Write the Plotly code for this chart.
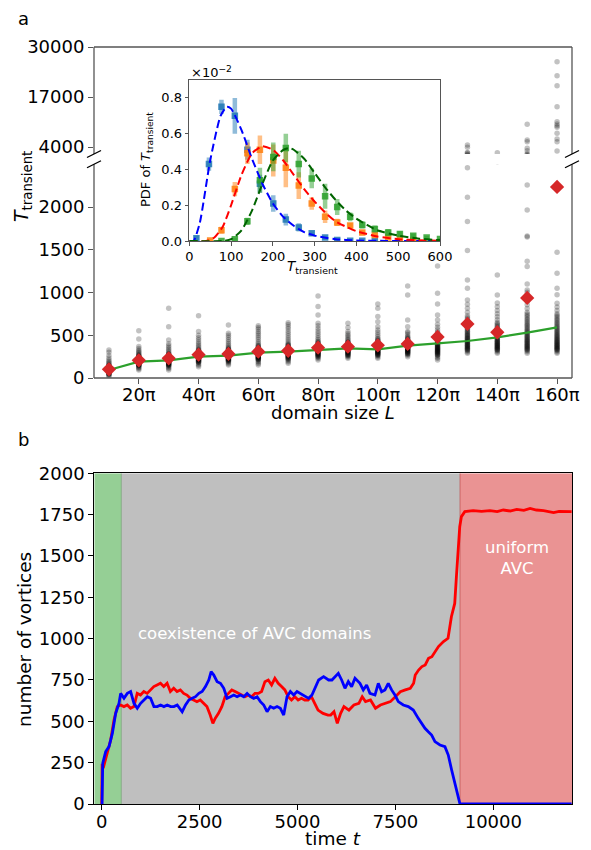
import numpy as np
import plotly.graph_objects as go

PI = np.pi
OFF = 8                      # page body margin of the html page
W, H = 591 - OFF, 850 - OFF  # figure size

# ---------------- panel a : data ----------------
L_mult = [10, 20, 30, 40, 50, 60, 70, 80, 90, 100, 110, 120, 130, 140, 150, 160]
T_mean = [102, 207, 230, 273, 281, 308, 319, 355, 366, 382, 398, 480, 632, 535, 936, 2235]
T_fit = [94, 191, 207, 249, 261, 296, 308, 328, 347, 335, 378, 405, 433, 476, 530, 593]

T_10 = [18, 30, 42, 45, 50, 55, 58, 62, 64, 68, 70, 73, 76, 79, 81, 84, 86, 88, 90, 92, 94, 96, 98, 100, 103, 105, 108, 110, 113, 116, 118, 121, 124, 127, 131, 134, 138, 142, 146, 155, 166, 178, 192, 210, 235, 262, 300, 328]
T_20 = [94, 108, 120, 130, 140, 145, 148, 152, 156, 160, 163, 167, 170, 173, 176, 179, 182, 185, 188, 191, 193, 196, 198, 201, 204, 207, 210, 213, 216, 219, 222, 226, 229, 233, 236, 240, 244, 248, 252, 257, 262, 272, 284, 296, 310, 325, 345, 367, 456, 554]
T_30 = [94, 110, 124, 136, 146, 150, 155, 159, 163, 167, 171, 175, 178, 182, 185, 189, 192, 195, 198, 201, 204, 207, 210, 214, 217, 221, 224, 228, 231, 235, 238, 242, 246, 250, 255, 260, 265, 270, 276, 282, 288, 302, 318, 336, 356, 378, 402, 444, 600, 815]
T_40 = [133, 150, 165, 178, 184, 190, 195, 200, 205, 209, 213, 217, 221, 225, 228, 232, 236, 239, 243, 246, 250, 253, 257, 260, 264, 267, 271, 274, 278, 282, 286, 290, 295, 299, 304, 309, 315, 320, 326, 332, 346, 362, 380, 400, 422, 446, 472, 500, 544, 729]
T_50 = [152, 168, 182, 194, 198, 204, 208, 213, 217, 221, 225, 229, 232, 236, 240, 243, 247, 250, 254, 257, 261, 264, 268, 271, 275, 278, 282, 286, 290, 294, 298, 303, 308, 313, 318, 324, 330, 336, 343, 350, 366, 384, 404, 426, 450, 476, 500, 523, 620]
T_60 = [152, 170, 186, 200, 212, 217, 222, 227, 231, 236, 240, 244, 248, 252, 256, 260, 264, 268, 272, 276, 280, 284, 288, 292, 296, 300, 305, 310, 315, 320, 326, 332, 338, 345, 352, 360, 368, 377, 386, 406, 428, 452, 476, 500, 524, 544, 570, 590, 612]
T_70 = [172, 190, 206, 220, 226, 232, 238, 243, 248, 253, 258, 262, 266, 271, 275, 280, 284, 289, 293, 298, 302, 307, 312, 317, 322, 328, 334, 340, 346, 353, 360, 368, 376, 384, 393, 402, 422, 444, 468, 494, 520, 548, 575, 600, 625, 647]
T_80 = [211, 228, 243, 250, 256, 262, 268, 273, 279, 284, 289, 294, 299, 303, 308, 312, 317, 321, 326, 331, 336, 341, 346, 351, 357, 363, 369, 375, 382, 389, 396, 404, 412, 421, 430, 450, 472, 496, 522, 550, 580, 610, 640, 737, 835, 959]
T_90 = [230, 245, 258, 264, 270, 276, 281, 286, 291, 296, 300, 305, 309, 314, 318, 323, 327, 332, 336, 341, 345, 350, 355, 360, 365, 370, 376, 382, 388, 394, 401, 408, 415, 422, 430, 446, 463, 482, 500, 520, 544, 590, 640]
T_100 = [230, 246, 260, 266, 272, 278, 283, 288, 293, 298, 302, 307, 311, 316, 320, 325, 329, 334, 338, 343, 348, 353, 358, 363, 369, 375, 381, 387, 394, 401, 408, 416, 424, 433, 442, 452, 462, 484, 508, 534, 562, 600, 659, 718, 815, 866]
T_110 = [250, 265, 278, 284, 290, 296, 301, 306, 311, 316, 320, 325, 329, 334, 338, 343, 347, 352, 357, 362, 367, 372, 378, 384, 390, 396, 403, 410, 417, 424, 432, 440, 448, 457, 466, 476, 486, 508, 530, 544, 600, 679, 971, 1076]
T_120 = [211, 230, 247, 262, 270, 276, 283, 289, 295, 301, 306, 312, 318, 323, 329, 334, 340, 345, 351, 357, 363, 369, 376, 382, 390, 396, 404, 411, 420, 427, 436, 445, 455, 465, 476, 487, 499, 511, 524, 537, 565, 595, 630, 679, 737, 866, 990, 1310]
T_130 = [289, 305, 320, 327, 334, 341, 348, 355, 362, 369, 376, 383, 390, 398, 405, 413, 420, 428, 436, 444, 452, 461, 469, 478, 487, 497, 506, 516, 526, 537, 548, 560, 572, 585, 598, 612, 626, 641, 656, 673, 690, 709, 728, 770, 816, 864, 913, 1049, 1147, 1490, 1829, 2114, 2460, 2560, 3920, 4520]
T_140 = [289, 305, 320, 327, 334, 340, 347, 353, 360, 366, 373, 380, 386, 393, 400, 407, 414, 422, 429, 437, 445, 453, 462, 471, 480, 490, 499, 510, 520, 531, 542, 554, 566, 579, 592, 606, 620, 635, 650, 682, 716, 752, 790, 832, 877, 971, 1205, 2530]
T_150 = [289, 306, 322, 330, 338, 346, 354, 362, 370, 378, 386, 395, 403, 412, 420, 429, 438, 447, 457, 467, 477, 488, 498, 509, 520, 532, 544, 557, 570, 584, 598, 613, 628, 644, 660, 677, 694, 712, 730, 750, 770, 812, 856, 900, 950, 1003, 1030, 1100, 1305, 1365, 1650, 1660, 1966, 2258, 3040, 3660, 5380, 5800, 9900]
T_160 = [289, 305, 320, 327, 334, 341, 348, 355, 362, 369, 376, 384, 391, 399, 406, 414, 422, 430, 439, 448, 457, 466, 476, 486, 496, 506, 517, 528, 540, 552, 565, 578, 592, 606, 620, 635, 650, 666, 682, 699, 716, 734, 752, 790, 830, 874, 975, 1049, 1225, 1470, 2960, 5380, 6080, 7560, 9120, 9500, 9980, 10580, 14480, 19940, 22540, 26180]
T_samples = [T_10, T_20, T_30, T_40, T_50, T_60, T_70, T_80, T_90, T_100, T_110, T_120, T_130, T_140, T_150, T_160]

L_ticks = [20, 40, 60, 80, 100, 120, 140, 160]

# inset PDFs (units of 1e-2)
pdf_x_blue = [17, 47, 77, 109, 139, 169, 201, 231, 262, 293, 325, 354, 385, 414, 444]
pdf_blue = [0.015, 0.43, 0.75, 0.70, 0.51, 0.32, 0.21, 0.12, 0.076, 0.043, 0.019, 0.006, 0.002, 0.001, 0.0]
err_blue = [0.015, 0.037, 0.04, 0.10, 0.056, 0.05, 0.046, 0.033, 0.023, 0.012, 0.01, 0.005, 0.003, 0.002, 0.001]

pdf_x_orange = [50, 77, 109, 139, 169, 201, 231, 262, 293, 325, 354, 385, 414, 444, 476, 504, 536]
pdf_orange = [0.003, 0.06, 0.29, 0.49, 0.51, 0.45, 0.41, 0.31, 0.21, 0.135, 0.104, 0.086, 0.047, 0.034, 0.019, 0.015, 0.006]
err_orange = [0.005, 0.02, 0.04, 0.06, 0.08, 0.09, 0.11, 0.075, 0.035, 0.035, 0.02, 0.015, 0.015, 0.01, 0.008, 0.006, 0.004]

pdf_x_green = [77, 109, 139, 169, 201, 231, 262, 293, 325, 354, 385, 414, 444, 476, 504, 536, 568, 600]
pdf_green = [0.0, 0.01, 0.11, 0.34, 0.47, 0.52, 0.43, 0.35, 0.25, 0.19, 0.135, 0.09, 0.067, 0.047, 0.039, 0.03, 0.02, 0.011]
err_green = [0.003, 0.008, 0.02, 0.07, 0.08, 0.08, 0.075, 0.055, 0.07, 0.045, 0.025, 0.02, 0.02, 0.02, 0.015, 0.01, 0.008, 0.006]

fit_x_blue = [0, 10, 25, 50, 75, 90, 100, 125, 150, 175, 200, 225, 250, 275, 300, 350, 400, 450, 600]
fit_blue = [0.0, 0.0, 0.10, 0.45, 0.70, 0.75, 0.74, 0.62, 0.46, 0.32, 0.21, 0.135, 0.085, 0.05, 0.03, 0.01, 0.003, 0.001, 0.0]
fit_x_red = [0, 40, 60, 80, 100, 125, 150, 175, 200, 225, 250, 275, 300, 325, 350, 375, 400, 450, 500, 550, 600]
fit_red = [0.0, 0.0, 0.02, 0.08, 0.20, 0.37, 0.49, 0.53, 0.51, 0.45, 0.37, 0.29, 0.22, 0.16, 0.11, 0.08, 0.055, 0.025, 0.01, 0.004, 0.001]
fit_x_green = [0, 80, 100, 125, 150, 175, 200, 225, 240, 250, 275, 300, 325, 350, 375, 400, 425, 450, 500, 550, 600]
fit_green = [0.0, 0.0, 0.01, 0.06, 0.17, 0.32, 0.45, 0.51, 0.52, 0.51, 0.46, 0.38, 0.30, 0.23, 0.17, 0.125, 0.09, 0.06, 0.03, 0.013, 0.005]

# ---------------- panel b : data ----------------
red_t = [0, 10, 48, 143, 228, 313, 397, 482, 567, 652, 736, 821, 906, 990, 1075, 1160, 1245, 1330, 1414, 1499,
         1584, 1669, 1753, 1838, 1923, 2008, 2092, 2177, 2262, 2347, 2431, 2516, 2601, 2686, 2770, 2838, 2897,
         2982, 3067, 3151, 3236, 3321, 3406, 3490, 3575, 3660, 3745, 3829, 3914, 3999, 4083, 4168, 4253, 4338,
         4422, 4507, 4592, 4677, 4761, 4846, 4931, 5016, 5100, 5185, 5270, 5355, 5439, 5524, 5651, 5778, 5847,
         5931, 6016, 6101, 6186, 6313, 6440, 6567, 6652, 6737, 6864, 6991, 7118, 7245, 7372, 7499, 7626, 7753,
         7880, 7965, 8007, 8092, 8177, 8261, 8346, 8431, 8516, 8600, 8728, 8844, 8930, 9015, 9058, 9101, 9143,
         9186, 9272, 9486, 9700, 9914, 10100, 10256, 10430, 10599, 10780, 10941, 11100, 11283, 11420, 11540,
         11680, 11797, 12000]
red_n = [0, 230, 226, 306, 387, 508, 589, 599, 589, 599, 579, 589, 669, 659, 680, 669, 690, 710, 720, 730,
         710, 730, 680, 700, 680, 690, 669, 659, 639, 629, 619, 629, 609, 589, 538, 488, 518,
         548, 589, 649, 669, 690, 680, 669, 659, 649, 659, 649, 669, 669, 680, 740, 750, 720,
         760, 730, 710, 690, 649, 629, 649, 629, 639, 629, 629, 649, 609, 568, 548, 538, 538,
         558, 488, 548, 589, 568, 599, 609, 649, 619, 629, 579, 599, 609, 619, 649, 679, 690,
         700, 730, 780, 810, 831, 841, 881, 891, 921, 952, 982, 1002, 1133, 1213, 1375, 1556, 1677,
         1738, 1768, 1774, 1770, 1774, 1768, 1778, 1772, 1782, 1776, 1788, 1778, 1774, 1768, 1762,
         1770, 1768, 1768]

blue_t = [0, 8, 25, 101, 186, 271, 356, 441, 483, 568, 653, 738, 823, 908, 993, 1078, 1163, 1248, 1333, 1418,
          1503, 1588, 1673, 1758, 1843, 1928, 2055, 2140, 2225, 2310, 2395, 2480, 2565, 2650, 2735, 2794, 2862,
          2947, 3032, 3117, 3202, 3287, 3372, 3457, 3542, 3627, 3712, 3797, 3882, 3967, 4052, 4137, 4222, 4307,
          4392, 4477, 4562, 4647, 4732, 4817, 4902, 4987, 5072, 5157, 5284, 5369, 5454, 5539, 5666, 5794, 5879,
          5960, 6042, 6127, 6212, 6297, 6382, 6468, 6595, 6680, 6765, 6850, 6978, 7063, 7148, 7233, 7318, 7403,
          7488, 7574, 7701, 7829, 7957, 8084, 8169, 8255, 8340, 8425, 8510, 8638, 8765, 8850, 8936, 9021, 9106,
          9149, 12000]
blue_n = [0, 0, 246, 317, 347, 427, 548, 609, 669, 639, 669, 680, 609, 579, 609, 629, 649, 639, 589, 589,
          599, 589, 599, 589, 589, 599, 558, 599, 629, 639, 649, 669, 680, 710, 750, 800, 780,
          740, 730, 700, 639, 649, 659, 649, 659, 649, 669, 649, 639, 649, 619, 599, 558, 589,
          579, 589, 579, 538, 649, 680, 659, 680, 669, 659, 639, 659, 710, 750, 770, 750, 750,
          770, 790, 750, 700, 740, 710, 760, 730, 690, 720, 669, 659, 730, 679, 690, 730, 690,
          659, 619, 599, 589, 568, 518, 488, 458, 437, 417, 377, 357, 347, 296, 206, 125, 34,
          0, 0]

t_ticks = [0, 2500, 5000, 7500, 10000]

# ---------------- geometry helpers (window pixel -> paper) ----------------
def px(x):
    return (x - OFF) / W

def py(y):
    return (H - (y - OFF)) / H

AX_L, AX_R = 94, 572
LOW_BOT, LOW_TOP = 378, 164.25
UP_BOT, UP_TOP = 154, 47

FONT = "DejaVu Sans"
GRAY = "#555555"

fig = go.Figure()

dx, dy = [], []
for m, vals in zip(L_mult, T_samples):
    dx += [m * PI] * len(vals)
    dy += vals
for ya in ["y", "y2"]:
    fig.add_trace(go.Scatter(x=dx, y=dy, mode="markers", xaxis="x", yaxis=ya,
                             marker=dict(size=5.5, color="rgba(0,0,0,0.24)", line_width=0),
                             hoverinfo="skip", showlegend=False))
Lx = [m * PI for m in L_mult]
fig.add_trace(go.Scatter(x=Lx, y=T_fit, mode="lines", xaxis="x", yaxis="y",
                         line=dict(color="#2ca02c", width=2.2), showlegend=False))
fig.add_trace(go.Scatter(x=Lx, y=T_mean, mode="markers", xaxis="x", yaxis="y",
                         marker=dict(symbol="diamond", size=11, color="#d62728", line_width=0),
                         showlegend=False))

for xs, ys, es, col in [(pdf_x_blue, pdf_blue, err_blue, (31, 119, 180)),
                        (pdf_x_orange, pdf_orange, err_orange, (255, 127, 14)),
                        (pdf_x_green, pdf_green, err_green, (44, 160, 44))]:
    r, g, b = col
    fig.add_trace(go.Scatter(x=xs, y=ys, mode="markers", xaxis="x3", yaxis="y3",
                             marker=dict(symbol="square", size=6.5, color=f"rgba({r},{g},{b},0.85)", line_width=0),
                             error_y=dict(type="data", array=es, visible=True, thickness=4.5, width=0,
                                          color=f"rgba({r},{g},{b},0.5)"),
                             showlegend=False))
for xs, ys, col in [(fit_x_blue, fit_blue, "blue"), (fit_x_red, fit_red, "red"),
                    (fit_x_green, fit_green, "darkgreen")]:
    fig.add_trace(go.Scatter(x=xs, y=ys, mode="lines", xaxis="x3", yaxis="y3",
                             line=dict(color=col, width=2, dash="8px,4px", shape="spline", smoothing=0.6),
                             showlegend=False))

fig.add_trace(go.Scatter(x=red_t, y=red_n, mode="lines", xaxis="x4", yaxis="y4",
                         line=dict(color="red", width=2.8), showlegend=False))
fig.add_trace(go.Scatter(x=blue_t, y=blue_n, mode="lines", xaxis="x4", yaxis="y4",
                         line=dict(color="blue", width=2.8), showlegend=False))

tick_common = dict(showgrid=False, zeroline=False, ticks="outside", ticklen=5, tickwidth=1.2,
                   showline=False, automargin=False)

fig.update_layout(
    width=W, height=H, margin=dict(l=0, r=0, t=0, b=0, pad=0, autoexpand=False),
    paper_bgcolor="white", plot_bgcolor="white",
    font=dict(family=FONT, color="black", size=18),
    xaxis=dict(domain=[px(AX_L), px(AX_R)], anchor="y", range=[5 * PI, 165 * PI],
               tickvals=[m * PI for m in L_ticks], ticktext=[f"{m}π" for m in L_ticks],
               tickcolor=GRAY, tickfont=dict(size=18), ticklabelstandoff=-5, **tick_common),
    yaxis=dict(domain=[py(LOW_BOT), py(LOW_TOP)], anchor="x", range=[0, 2500],
               tickvals=[0, 500, 1000, 1500, 2000], tickformat="d",
               tickcolor=GRAY, tickfont=dict(size=18), **tick_common),
    yaxis2=dict(domain=[py(UP_BOT), py(UP_TOP)], anchor="x", range=[2180, 30000],
                tickvals=[4000, 17000, 30000], tickformat="d",
                tickcolor=GRAY, tickfont=dict(size=18), **tick_common),
    xaxis3=dict(domain=[px(189.3), px(440)], anchor="y3", range=[0, 600],
                tickvals=[0, 100, 200, 300, 400, 500, 600], tickcolor=GRAY,
                tickfont=dict(size=13), showgrid=False, zeroline=False, ticks="outside",
                ticklen=3.5, tickwidth=1, showline=True, mirror=True, linecolor=GRAY, linewidth=1.3,
                automargin=False),
    yaxis3=dict(domain=[py(241), py(80)], anchor="x3", range=[0, 0.9],
                tickvals=[0, 0.2, 0.4, 0.6, 0.8], tickformat=".1f", tickcolor=GRAY,
                tickfont=dict(size=13), showgrid=False, zeroline=False, ticks="outside",
                ticklen=3.5, tickwidth=1, showline=True, mirror=True, linecolor=GRAY, linewidth=1.3,
                automargin=False),
    xaxis4=dict(domain=[px(94.3), px(572)], anchor="y4", range=[-190, 12010],
                tickvals=t_ticks, tickformat="d", tickcolor="black", tickfont=dict(size=18),
                ticklabelstandoff=-4,
                showgrid=False, zeroline=False, ticks="outside", ticklen=5, tickwidth=1.2,
                showline=True, mirror=True, linecolor="black", linewidth=1.2, automargin=False),
    yaxis4=dict(domain=[py(804), py(473.3)], anchor="x4", range=[0, 2000],
                tickvals=[0, 250, 500, 750, 1000, 1250, 1500, 1750, 2000], tickformat="d",
                tickcolor="black", tickfont=dict(size=18),
                showgrid=False, zeroline=False, ticks="outside", ticklen=5, tickwidth=1.2,
                showline=True, mirror=True, linecolor="black", linewidth=1.2, automargin=False),
)

shapes = []
def pline(x0, y0, x1, y1, color=GRAY, w=1.3):
    shapes.append(dict(type="line", xref="paper", yref="paper", x0=px(x0), y0=py(y0),
                       x1=px(x1), y1=py(y1), line=dict(color=color, width=w)))

for xx in (AX_L, AX_R):
    pline(xx, LOW_BOT, xx, LOW_TOP)
    pline(xx, UP_BOT, xx, UP_TOP)
pline(AX_L, LOW_BOT, AX_R, LOW_BOT)
pline(AX_L, UP_TOP, AX_R, UP_TOP)
for xx in (AX_L, AX_R):
    for yy in (UP_BOT, LOW_TOP):
        pline(xx - 7, yy + 3.5, xx + 7, yy - 3.5, color="black", w=1.3)

regions = [(-190, 500, "rgba(44,160,44,0.5)"), (500, 9150, "rgba(128,128,128,0.5)"),
           (9150, 12010, "rgba(214,39,40,0.5)")]
for x0, x1, c in regions:
    shapes.append(dict(type="rect", xref="x4", yref="y4", x0=x0, x1=x1, y0=0, y1=2000,
                       fillcolor=c, line_width=0, layer="below"))
for xb, c in [(500, "rgba(110,150,110,0.6)"), (9150, "rgba(190,80,80,0.7)")]:
    shapes.append(dict(type="line", xref="x4", yref="y4", x0=xb, x1=xb, y0=0, y1=2000,
                       line=dict(color=c, width=1), layer="below"))
fig.update_layout(shapes=shapes)

ann = []
def text(x, y, s, size=18, angle=0, color="black", xref="paper", yref="paper", **kw):
    ann.append(dict(x=x, y=y, xref=xref, yref=yref, text=s, showarrow=False, textangle=angle,
                    font=dict(size=size, color=color, family=FONT), xanchor="center", yanchor="middle", **kw))

text(px(23), py(18), "a", size=18)
text(px(23), py(440), "b", size=18)
text(px(333), py(412), "domain size <i>L</i>", size=18)
text(px(22), py(187), "<i>T</i><sub>transient</sub>", size=19, angle=-90)
text(px(24), py(640), "number of vortices", size=18.5, angle=-90)
text(px(333), py(838), "time <i>t</i>", size=18.5)
text(px(146), py(160), "PDF of <i>T</i><sub>transient</sub>", size=13, angle=-90)
text(px(312), py(267), "<i>T</i><sub>transient</sub>", size=13.5)
text(px(211), py(72), "×10<sup>−2</sup>", size=13)
text(3902, 1034, "coexistence of AVC domains", size=16.5, color="white", xref="x4", yref="y4")
text(10600, 1490, "uniform<br>AVC", size=16.5, color="white", xref="x4", yref="y4", align="center")
fig.update_layout(annotations=ann)

fig.write_html("out.html")
